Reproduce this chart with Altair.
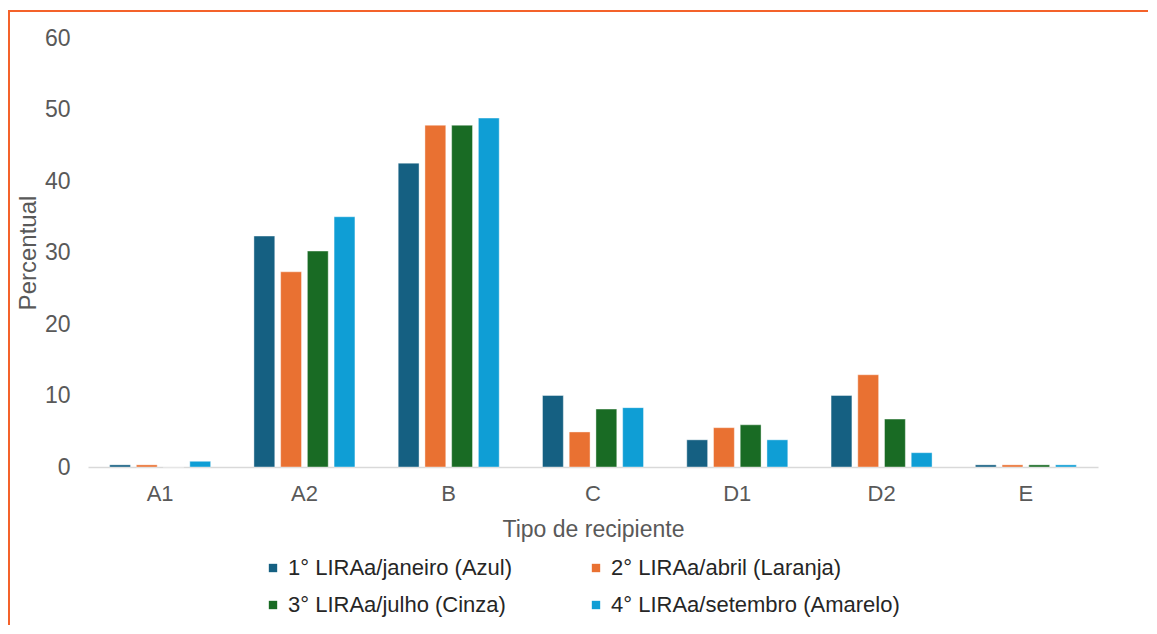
import altair as alt
import pandas as pd

categories = ["A1", "A2", "B", "C", "D1", "D2", "E"]
series = [
    "1° LIRAa/janeiro (Azul)",
    "2° LIRAa/abril (Laranja)",
    "3° LIRAa/julho (Cinza)",
    "4° LIRAa/setembro (Amarelo)",
]
jan = [0.3, 32.3, 42.5, 10.0, 3.8, 10.0, 0.3]
abr = [0.3, 27.3, 47.8, 4.9, 5.5, 12.9, 0.3]
jul = [0.0, 30.2, 47.8, 8.1, 5.9, 6.7, 0.3]
setb = [0.8, 35.0, 48.8, 8.3, 3.8, 2.0, 0.3]
colors = ["#156082", "#E97132", "#196B24", "#0F9ED5"]

rows = []
for s, vals in zip(series, [jan, abr, jul, setb]):
    for c, v in zip(categories, vals):
        rows.append({"Tipo": c, "Serie": s, "Valor": v})
df = pd.DataFrame(rows)

FONT = "Liberation Sans"
GRAY = "#595959"

bars = alt.Chart(df).mark_bar(stroke="white", strokeWidth=0.8, strokeOpacity=0.5).encode(
    x=alt.X("Tipo:N", sort=categories,
            scale=alt.Scale(paddingInner=0.3, paddingOuter=0.15),
            axis=alt.Axis(title="Tipo de recipiente", labelAngle=0, ticks=False,
                          domainColor="#d9d9d9", domainWidth=1.5,
                          labelFont=FONT, labelFontSize=22, labelColor=GRAY, labelPadding=16,
                          titleFont=FONT, titleFontSize=23, titleColor=GRAY,
                          titleFontWeight="normal", titlePadding=14)),
    xOffset=alt.XOffset("Serie:N", sort=series, scale=alt.Scale(paddingInner=0.22)),
    y=alt.Y("Valor:Q", scale=alt.Scale(domain=[0, 60]),
            axis=alt.Axis(title="Percentual", values=[0, 10, 20, 30, 40, 50, 60],
                          grid=False, domain=False, ticks=False,
                          labelFont=FONT, labelFontSize=23, labelColor=GRAY, labelPadding=18,
                          titleFont=FONT, titleFontSize=24, titleColor=GRAY,
                          titleFontWeight="normal", titlePadding=4)),
    color=alt.Color("Serie:N", sort=series, scale=alt.Scale(domain=series, range=colors),
                    legend=alt.Legend(title=None, orient="none", legendX=174, legendY=519,
                                      direction="horizontal",
                                      columns=2, columnPadding=72, rowPadding=15,
                                      symbolType="square", symbolSize=70,
                                      labelFont=FONT, labelFontSize=22, labelColor="#262626",
                                      labelLimit=400, symbolStrokeWidth=0)),
)

frame_df = pd.DataFrame({"k": [0]})
top_rule = alt.Chart(frame_df).mark_rule(color="#F4622A", strokeWidth=2).encode(
    x=alt.value(-80), x2=alt.value(1070), y=alt.value(-27)
)
left_rule = alt.Chart(frame_df).mark_rule(color="#F4622A", strokeWidth=2).encode(
    x=alt.value(-79), y=alt.value(-28), y2=alt.value(600)
)

chart = alt.layer(bars, top_rule, left_rule).properties(
    width=1010, height=429,
    padding={"left": 80, "top": 30, "right": 50, "bottom": 158},
    autosize=alt.AutoSizeParams(type="none"),
).configure_view(stroke=None)

chart.save("out.html", embed_options={"renderer": "svg", "actions": False})
